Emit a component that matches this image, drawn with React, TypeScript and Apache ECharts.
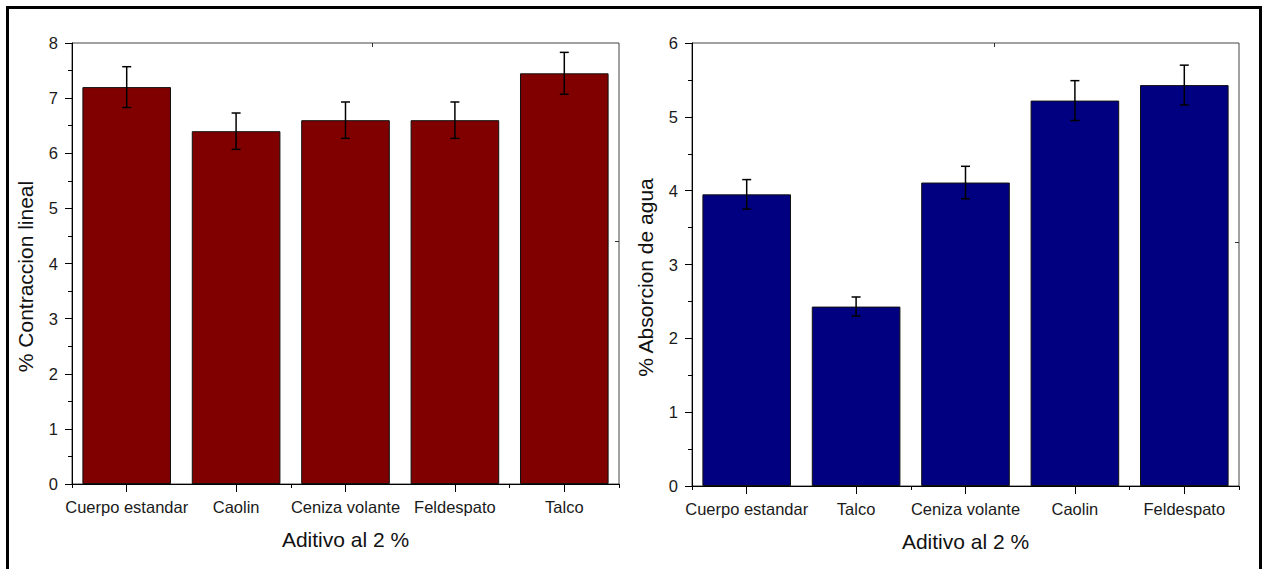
import React, { useEffect, useRef } from "react";
import * as echarts from "echarts";

const leftCategories = ["Cuerpo estandar", "Caolin", "Ceniza volante", "Feldespato", "Talco"];
const leftValues = [7.2, 6.4, 6.6, 6.6, 7.45];
const leftErrors = [0.37, 0.33, 0.33, 0.33, 0.38];

const rightCategories = ["Cuerpo estandar", "Talco", "Ceniza volante", "Caolin", "Feldespato"];
const rightValues = [3.95, 2.43, 4.11, 5.22, 5.43];
const rightErrors = [0.2, 0.13, 0.22, 0.27, 0.27];

const leftYName = "% Contraccion lineal";
const rightYName = "% Absorcion de agua";
const xName = "Aditivo al 2 %";

const FONT = "'Liberation Sans', Arial, sans-serif";

function errorRender(params: any, api: any) {
  const x = api.value(0);
  const lo = api.coord([x, api.value(1)]);
  const hi = api.coord([x, api.value(2)]);
  const cap = 4.5;
  const style = { stroke: "#000", lineWidth: 1.5 };
  return {
    type: "group",
    children: [
      { type: "line", shape: { x1: lo[0], y1: lo[1], x2: hi[0], y2: hi[1] }, style },
      { type: "line", shape: { x1: lo[0] - cap, y1: lo[1], x2: lo[0] + cap, y2: lo[1] }, style },
      { type: "line", shape: { x1: hi[0] - cap, y1: hi[1], x2: hi[0] + cap, y2: hi[1] }, style },
    ],
  };
}

export default function App() {
  const ref = useRef<HTMLDivElement>(null);
  useEffect(() => {
    if (!ref.current) return;
    const chart = echarts.init(ref.current, null, { renderer: "svg" });

    const makeX = (cats: string[], gridIndex: number) => [
      {
        type: "category",
        gridIndex,
        position: "bottom",
        data: cats,
        name: xName,
        nameLocation: "middle",
        nameGap: 45,
        nameTextStyle: { fontFamily: FONT, fontSize: 21, color: "#111" },
        axisLine: { show: true, lineStyle: { color: "#000", width: 1 } },
        axisTick: { show: true, alignWithLabel: true, length: 8, lineStyle: { color: "#000" } },
        axisLabel: { fontFamily: FONT, fontSize: 16.5, color: "#1a1a1a", margin: 14, interval: 0 },
        splitLine: { show: false },
      },
      {
        type: "category",
        gridIndex,
        position: "bottom",
        data: cats,
        axisLine: { show: false },
        axisTick: { show: true, alignWithLabel: false, length: 4, lineStyle: { color: "#000" } },
        axisLabel: { show: false },
        splitLine: { show: false },
      },
    ];

    const makeY = (max: number, name: string, gridIndex: number) => ({
      type: "value",
      gridIndex,
      min: 0,
      max,
      interval: 1,
      name,
      nameLocation: "middle",
      nameGap: 36,
      nameTextStyle: { fontFamily: FONT, fontSize: 21, color: "#111", padding: [0, 26, 0, 0] },
      axisLine: { show: true, lineStyle: { color: "#000", width: 1 } },
      axisTick: { show: true, length: 7, lineStyle: { color: "#000" } },
      minorTick: { show: true, splitNumber: 2, length: 4, lineStyle: { color: "#000" } },
      axisLabel: { fontFamily: FONT, fontSize: 16.5, color: "#1a1a1a", margin: 14 },
      splitLine: { show: false },
    });

    const errData = (vals: number[], errs: number[]) =>
      vals.map((v, i) => [i, v - errs[i], v + errs[i]]);

    chart.setOption({
      animation: false,
      backgroundColor: "#fff",
      grid: [
        { left: 72, top: 43, width: 547, height: 441, show: true, borderColor: "#444", borderWidth: 1, backgroundColor: "transparent" },
        { left: 692, top: 43, width: 547, height: 443, show: true, borderColor: "#444", borderWidth: 1, backgroundColor: "transparent" },
      ],
      xAxis: [...makeX(leftCategories, 0), ...makeX(rightCategories, 1)],
      yAxis: [makeY(8, leftYName, 0), makeY(6, rightYName, 1)],
      series: [
        {
          type: "bar",
          xAxisIndex: 0,
          yAxisIndex: 0,
          data: leftValues,
          barCategoryGap: "19%",
          itemStyle: { color: "#800000", borderColor: "#111", borderWidth: 1 },
        },
        {
          type: "custom",
          xAxisIndex: 0,
          yAxisIndex: 0,
          data: errData(leftValues, leftErrors),
          renderItem: errorRender,
          z: 10,
        },
        {
          type: "bar",
          xAxisIndex: 2,
          yAxisIndex: 1,
          data: rightValues,
          barCategoryGap: "19%",
          itemStyle: { color: "#000080", borderColor: "#111", borderWidth: 1 },
        },
        {
          type: "custom",
          xAxisIndex: 2,
          yAxisIndex: 1,
          data: errData(rightValues, rightErrors),
          renderItem: errorRender,
          z: 10,
        },
      ],
      graphic: [
        {
          type: "rect",
          shape: { x: 7.5, y: 7.5, width: 1253, height: 575 },
          style: { fill: "none", stroke: "#000", lineWidth: 3 },
          silent: true,
        },
        { type: "line", shape: { x1: 372.5, y1: 43, x2: 372.5, y2: 47 }, style: { stroke: "#333", lineWidth: 1 } },
        { type: "line", shape: { x1: 615, y1: 241.5, x2: 619, y2: 241.5 }, style: { stroke: "#333", lineWidth: 1 } },
        { type: "line", shape: { x1: 994.5, y1: 43, x2: 994.5, y2: 47 }, style: { stroke: "#333", lineWidth: 1 } },
        { type: "line", shape: { x1: 1235, y1: 242.5, x2: 1239, y2: 242.5 }, style: { stroke: "#333", lineWidth: 1 } },
      ],
    });
    return () => chart.dispose();
  }, []);

  return (
    <div
      ref={ref}
      style={{ position: "fixed", left: 0, top: 0, width: 1269, height: 569, background: "#fff" }}
    />
  );
}
